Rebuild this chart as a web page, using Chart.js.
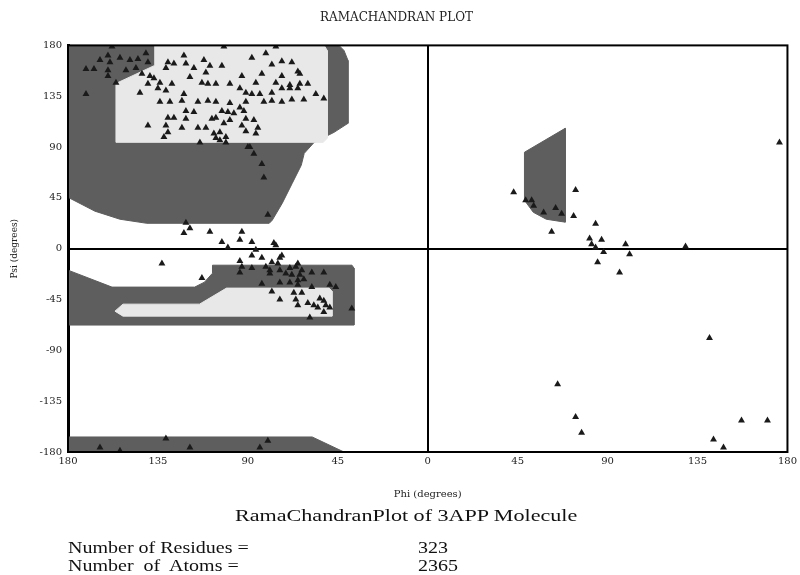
<!DOCTYPE html>
<html>
<head>
<meta charset="utf-8">
<script src="https://cdn.jsdelivr.net/npm/chart.js@4.4.1/dist/chart.umd.min.js"></script>
<style>
  body { margin: 0; background: #fff; }
  #wrap { position: relative; width: 800px; height: 575px; }
  .txt { position: absolute; font-family: 'Liberation Serif', serif; color: #111; white-space: pre; transform-origin: left center; }
</style>
</head>
<body>
<div id="wrap">
  <canvas id="rama" width="800" height="575"></canvas>
  <div class="txt" id="caption" style="left:235px; top:506px; font-size:17px; transform:scaleX(1.3);">RamaChandranPlot of 3APP Molecule</div>
  <div class="txt" style="left:68px; top:539px; font-size:16px; transform:scaleX(1.25);">Number of Residues =</div>
  <div class="txt" style="left:418px; top:539px; font-size:16px; transform:scaleX(1.25);">323</div>
  <div class="txt" style="left:68px; top:557px; font-size:16px; transform:scaleX(1.25);">Number  of  Atoms =</div>
  <div class="txt" style="left:418px; top:557px; font-size:16px; transform:scaleX(1.25);">2365</div>
</div>
<script>
// Ramachandran plot of 3APP

// tick labels, in value order (-180 ... 180)
const xTickLabels = ['180', '135', '90', '45', '0', '45', '90', '135', '180'];
const yTickLabels = ['-180', '-135', '-90', '-45', '0', '45', '90', '135', '180'];

// residues: phi / psi (degrees)
const phiValues = [
  -158, -160, -164, -159, -154, -149, -145, -141, -140, -171, -167, -160, -160, -151, -146, -143, -139, -156, -171,
  -130, -127, -122, -121, -112, -109, -117, -111, -131, -137, -134, -140, -135, -131, -144, -128, -119, -113, -110,
  -122, -123, -134, -129, -115, -110, -121, -117, -130, -127, -121, -140, -131, -123, -115, -111, -130, -132, -106, -107,
  -102, -76, -88, -81, -103, -78, -73, -68, -65, -93, -83, -73, -64, -99, -86, -76, -69, -64, -60, -106,
  -94, -91, -88, -84, -78, -73, -69, -65, -56, -52, -82, -78, -73, -68, -62, -106, -99, -94, -91, -103,
  -100, -97, -92, -99, -91, -87, -108, -102, -93, -85, -91, -86, -104, -101, -106, -104, -89, -114, -101, -90,
  -87, -83, -82, -80, -121, -119, -122, -109, -93, -103, -94, -88, -77, -100, -76,
  -86, -88, -83, -74, -73, -94, -78, -75, -93, -88, -81, -79, -74, -65, -66, -69, -63, -58, -52, -94,
  -79, -71, -68, -64, -65, -62, -74, -69, -83, -65, -58, -49, -46, -78, -67, -63, -74, -66, -65, -60,
  -57, -54, -52, -51, -55, -49, -52, -38, -59, -133, -113,
  -164, -154, -131, -119, -84, -80,
  43, 74, 49, 52, 53, 58, 64, 67, 73, 62, 84, 81, 87, 82, 84, 99, 88, 101, 85, 96, 129, 176,
  141, 65, 74, 77, 157, 170, 143, 148
];
const psiValues = [
  179, 171, 167, 165, 169, 167, 168, 173, 165, 159, 159, 158, 153, 158, 160, 155, 153, 147, 137,
  165, 164, 171, 164, 167, 162, 160, 156, 160, 151, 147, 146, 142, 140, 138, 146, 152, 147, 146,
  137, 131, 130, 130, 130, 131, 122, 121, 116, 116, 115, 109, 109, 107, 107, 107, 103, 99, 116, 102,
  179, 179, 169, 173, 162, 163, 166, 165, 157, 153, 155, 153, 155, 146, 147, 147, 145, 146, 146, 146,
  142, 138, 137, 137, 138, 142, 142, 142, 137, 133, 130, 131, 130, 132, 132, 130, 129, 125, 130, 122,
  121, 120, 122, 114, 115, 114, 115, 111, 109, 107, 104, 102, 103, 99, 98, 96, 90, 94, 94, 90,
  84, 75, 63, 30, 23, 18, 14, 15, 15, 6, 8, 6, 5, 1, 3,
  -1, -6, -8, -8, -6, -11, -12, -13, -16, -17, -16, -19, -19, -13, -16, -17, -19, -21, -21, -21,
  -22, -22, -23, -23, -28, -27, -30, -30, -31, -32, -34, -32, -34, -38, -39, -39, -45, -45, -50, -48,
  -50, -44, -46, -50, -52, -52, -56, -53, -61, -13, -26,
  -176, -179, -168, -176, -176, -170,
  50, 52, 43, 43, 38, 32, 36, 31, 29, 15, 22, 9, 8, 4, 1, 4, -3, -5, -12, -21, 2, 94,
  -79, -120, -149, -163, -152, -152, -169, -176
];

// allowed regions (outline vertices, phi / psi)
const coreBetaPhi = [-136.6, -51.8, -50.3, -50.3, -52.3, -156, -156, -136.6];
const coreBetaPsi = [180, 180, 175.5, 97.7, 94.2, 94.2, 146.3, 162.3];

const allowedBetaPhi = [-180, -44.4, -41.9, -39.9, -39.9, -46.9, -56.8, -61.8, -63.3, -67.8, -72.8, -77.8, -79.3, -140.6, -154, -166.5, -180];
const allowedBetaPsi = [180, 180, 175.5, 166.7, 111, 103, 94.2, 84.4, 73.8, 57.9, 40.2, 25.2, 22.5, 22.5, 26.1, 33.2, 45.5];

const coreAlphaPhi = [-100.7, -49.3, -47.9, -47.9, -152.5, -156.5, -152.5, -114.2];
const coreAlphaPsi = [-34.9, -34.9, -37.6, -59.7, -59.7, -55.3, -49.1, -49.1];

const allowedAlphaPhi = [-180, -158, -116.6, -111.7, -107.7, -107.7, -37.9, -36.9, -36.9, -180];
const allowedAlphaPsi = [-19, -34, -34, -29.6, -21.7, -14.6, -14.6, -17.2, -67.6, -67.6];

const allowedBottomPhi = [-180, -57.8, -41.9, -180];
const allowedBottomPsi = [-166.7, -166.7, -180, -180];

const allowedLeftPhi = [48.4, 68.8, 68.8, 59.3, 52.8, 48.4];
const allowedLeftPsi = [85.4, 106.6, 23.5, 26.1, 32.3, 42.9];

const DARK = '#5e5e5e';
const LIGHT = '#e8e8e8';

function toPoints(xs, ys) {
    return xs.map((x, i) => ({ x: x, y: ys[i] }));
}

function region(label, xs, ys, color, order) {
    const pts = toPoints(xs, ys);
    pts.push(pts[0]); // close the outline
    return {
        type: 'line',
        label: label,
        data: pts,
        showLine: true,
        fill: 'shape',
        backgroundColor: color,
        borderColor: color,
        borderWidth: 1,
        pointRadius: 0,
        tension: 0,
        order: order
    };
}

// frame around the plotting area
const framePlugin = {
    id: 'frame',
    afterDatasetsDraw(chart) {
        const { ctx, chartArea: a } = chart;
        ctx.save();
        ctx.strokeStyle = '#000';
        ctx.lineWidth = 2;
        ctx.strokeRect(a.left, a.top, a.right - a.left, a.bottom - a.top);
        ctx.restore();
    }
};

const tickFont = { family: "'DejaVu Serif', serif", size: 10 };

new Chart(document.getElementById('rama'), {
    type: 'scatter',
    data: {
        datasets: [
            region('allowed beta', allowedBetaPhi, allowedBetaPsi, DARK, 3),
            region('core beta', coreBetaPhi, coreBetaPsi, LIGHT, 2),
            region('allowed alpha', allowedAlphaPhi, allowedAlphaPsi, DARK, 3),
            region('core alpha', coreAlphaPhi, coreAlphaPsi, LIGHT, 2),
            region('allowed bottom', allowedBottomPhi, allowedBottomPsi, DARK, 3),
            region('allowed left', allowedLeftPhi, allowedLeftPsi, DARK, 3),
            {
                label: 'residues',
                data: toPoints(phiValues, psiValues),
                pointStyle: 'triangle',
                pointRadius: 4,
                backgroundColor: '#1a1a1a',
                borderColor: '#1a1a1a',
                borderWidth: 0,
                order: 0
            }
        ]
    },
    options: {
        responsive: false,
        animation: false,
        layout: { padding: { left: 0, right: 7, top: 0, bottom: 71 } },
        plugins: {
            legend: { display: false },
            tooltip: { enabled: false },
            title: {
                display: true,
                text: 'RAMACHANDRAN PLOT',
                color: '#222',
                font: { family: "'DejaVu Serif', serif", size: 12, weight: 'normal' },
                padding: { top: 11, bottom: 20 }
            }
        },
        scales: {
            x: {
                type: 'linear',
                min: -180,
                max: 180,
                afterFit: (scale) => { scale.height = 52; },
                ticks: {
                    stepSize: 45,
                    padding: 3,
                    color: '#222',
                    font: tickFont,
                    maxRotation: 0,
                    callback: (v) => xTickLabels[(v + 180) / 45]
                },
                grid: {
                    drawTicks: false,
                    color: (c) => (c.tick && c.tick.value === 0 ? '#000' : 'rgba(0,0,0,0)'),
                    lineWidth: 2
                },
                border: { display: true, color: '#000', width: 2 },
                title: {
                    display: true,
                    text: 'Phi (degrees)',
                    color: '#222',
                    font: { family: "'DejaVu Serif', serif", size: 10 },
                    padding: { top: 20, bottom: 4 }
                }
            },
            y: {
                type: 'linear',
                min: -180,
                max: 180,
                afterFit: (scale) => { scale.width = 68; },
                ticks: {
                    stepSize: 45,
                    padding: 6,
                    color: '#222',
                    font: tickFont,
                    callback: (v) => yTickLabels[(v + 180) / 45]
                },
                grid: {
                    drawTicks: false,
                    color: (c) => (c.tick && c.tick.value === 0 ? '#000' : 'rgba(0,0,0,0)'),
                    lineWidth: 2
                },
                border: { display: true, color: '#000', width: 3 },
                title: {
                    display: true,
                    text: 'Psi (degrees)',
                    color: '#222',
                    font: { family: "'DejaVu Serif', serif", size: 9 },
                    padding: { top: 9, bottom: 0 }
                }
            }
        }
    },
    plugins: [framePlugin]
});
</script>
</body>
</html>
